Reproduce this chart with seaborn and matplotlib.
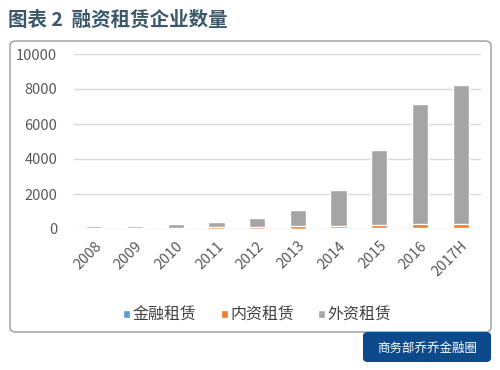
import matplotlib
matplotlib.use("Agg")
import matplotlib.pyplot as plt
from matplotlib.patches import FancyBboxPatch
import seaborn as sns
import pandas as pd

# data
years = ['2008', '2009', '2010', '2011', '2012', '2013', '2014', '2015', '2016', '2017H']
jinrong = [12, 18, 17, 20, 20, 23, 30, 47, 59, 66]            # 金融租赁
neizi = [37, 45, 45, 66, 80, 123, 152, 190, 204, 222]          # 内资租赁
waizi = [100, 110, 200, 300, 540, 940, 2030, 4290, 6860, 7920]  # 外资租赁

blue, orange, gray = '#5B9BD5', '#ED7D31', '#A5A5A5'

df = pd.DataFrame({'year': years, 'jr': jinrong, 'nz': neizi, 'wz': waizi})
df['s1'] = df['jr']
df['s2'] = df['jr'] + df['nz']
df['s3'] = df['s2'] + df['wz']

sns.set_theme(style='white')
plt.rcParams['font.family'] = ['Noto Sans CJK SC', 'DejaVu Sans']

fig = plt.figure(figsize=(5, 3.7), dpi=100)

# rounded frame around the chart
frame = FancyBboxPatch((10 / 500, 1 - 332 / 370), 481 / 500, 291 / 370,
                       boxstyle='round,pad=0,rounding_size=0.012',
                       transform=fig.transFigure, facecolor='white',
                       edgecolor='#9a9a9a', linewidth=1.0, zorder=-5)
fig.patches.append(frame)

ax = fig.add_axes([74 / 500, 1 - 229 / 370, 407 / 500, 175 / 370])
ax.set_facecolor('none')
ax.set_zorder(2)

# stacked bars drawn as cumulative totals, back to front
sns.barplot(data=df, x='year', y='s3', color=gray, width=0.4, saturation=1, ax=ax, label='外资租赁', zorder=3)
sns.barplot(data=df, x='year', y='s2', color=orange, width=0.4, saturation=1, ax=ax, label='内资租赁', zorder=3)
sns.barplot(data=df, x='year', y='s1', color=blue, width=0.4, saturation=1, ax=ax, label='金融租赁', zorder=3)

ax.set_ylim(0, 10000)
ax.set_yticks([0, 2000, 4000, 6000, 8000, 10000])
ax.set_xlim(-0.5, 9.5)
ax.grid(axis='y', color='#D9D9D9', linewidth=1.0, zorder=0)
ax.set_axisbelow(True)
for s in ax.spines.values():
    s.set_visible(False)
ax.set_xlabel('')
ax.set_ylabel('')
ax.tick_params(axis='y', length=0, pad=12, labelsize=10.5, labelcolor='#595959')
ax.tick_params(axis='x', length=0, pad=7, labelsize=10.5, labelcolor='#595959')
for lab in ax.get_xticklabels():
    lab.set_rotation(45)
    lab.set_ha('right')
    lab.set_rotation_mode('anchor')

# legend in the original order, below the plot
h, l = ax.get_legend_handles_labels()
if ax.get_legend() is not None:
    ax.get_legend().remove()
order = ['金融租赁', '内资租赁', '外资租赁']
hh = [h[l.index(o)] for o in order]
leg = fig.legend(hh, order, loc='center', bbox_to_anchor=(0.515, 1 - 315 / 370), ncol=3,
                 frameon=False, fontsize=11.5, handlelength=0.45, handleheight=0.45,
                 handletextpad=0.15, columnspacing=1.5)
for t in leg.get_texts():
    t.set_color('#404040')

fig.text(8 / 500, 1 - 20 / 370, '图表 2  融资租赁企业数量', fontsize=14, color='#3B5869',
         ha='left', va='center', fontweight='bold')

# watermark badge
badge = FancyBboxPatch((363 / 500, 1 - 362 / 370), 128 / 500, 30 / 370,
                       boxstyle='round,pad=0,rounding_size=0.01',
                       transform=fig.transFigure, facecolor='#0D4A8C',
                       edgecolor='none', zorder=1)
fig.patches.append(badge)
fig.text(427 / 500, 1 - 348 / 370, '商务部乔乔金融圈', fontsize=9, color='white',
         ha='center', va='center')

fig.savefig('out.png', dpi=100)
